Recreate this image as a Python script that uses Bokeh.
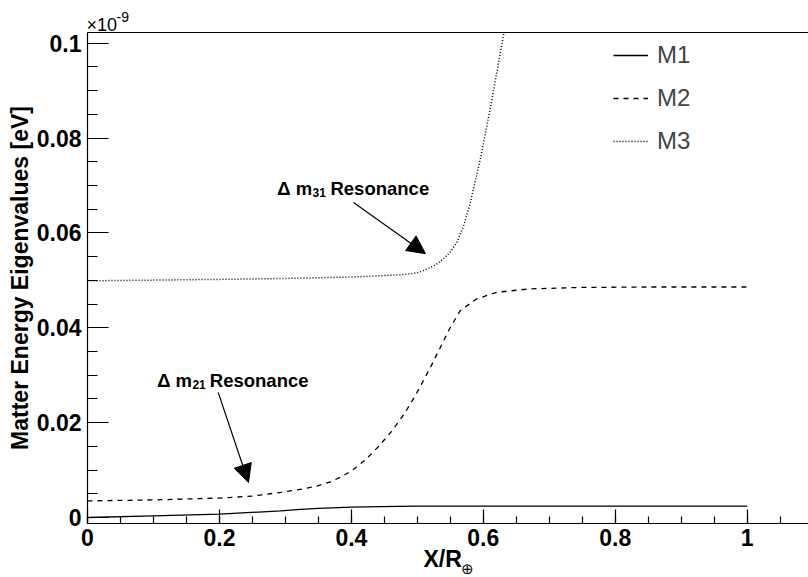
import numpy as np
from bokeh.plotting import figure
from bokeh.models import (Range1d, SingleIntervalTicker, FixedTicker, CustomJSTickFormatter,
                          LinearAxis, Label, Arrow, NormalHead, Legend, LegendItem, Title)
from bokeh.embed import file_html
from bokeh.resources import INLINE

# Matter eigenvalues (units of 1e-9 eV) versus position X/R_earth
x_m1 = [0.0, 0.1, 0.2, 0.293, 0.323, 0.35, 0.4, 0.444, 0.5, 0.6, 0.8, 1.0]
m1 = [0.0, 0.00035, 0.0007, 0.0014, 0.0017, 0.0019, 0.0022, 0.0023, 0.0024, 0.0024, 0.0024, 0.0024]

x_m2 = [0.0, 0.1, 0.2, 0.25, 0.293, 0.33, 0.35, 0.368, 0.385, 0.40, 0.42, 0.44, 0.46, 0.48,
        0.497, 0.52, 0.55, 0.565, 0.59, 0.621, 0.671, 0.747, 0.85, 1.0]
m2 = [0.0035, 0.0037, 0.0041, 0.0045, 0.0053, 0.0061, 0.0067, 0.0075, 0.0086, 0.0098,
      0.0120, 0.0148, 0.0180, 0.0218, 0.0257, 0.0317, 0.0401, 0.0436, 0.0461, 0.0475,
      0.0482, 0.0485, 0.0486, 0.0486]

x_m3 = [0.0, 0.2, 0.3, 0.4, 0.45, 0.475, 0.49, 0.5, 0.51, 0.52, 0.53, 0.54, 0.55, 0.56,
        0.57, 0.58, 0.595, 0.61, 0.625, 0.64]
m3 = [0.0499, 0.0502, 0.0504, 0.0507, 0.0510, 0.0512, 0.0514, 0.0516, 0.0521, 0.0527,
      0.0535, 0.0546, 0.0560, 0.0580, 0.0614, 0.0662, 0.0753, 0.0858, 0.0974, 0.1090]

series_names = ["M1", "M2", "M3"]

FONT = "Liberation Sans"
XMAX = 1.0929
YMIN, YMAX = -0.00127, 0.10226

p = figure(width=808, height=577, output_backend="svg", toolbar_location=None,
           x_range=Range1d(0, XMAX), y_range=Range1d(YMIN, YMAX),
           min_border_left=87, min_border_right=0, min_border_top=32, min_border_bottom=54)
p.grid.visible = False
p.outline_line_color = None
p.background_fill_color = "white"
p.border_fill_color = "white"

fmt = CustomJSTickFormatter(code="return parseFloat(tick.toFixed(3)).toString();")

xa = p.xaxis[0]
xa.ticker = SingleIntervalTicker(interval=0.2, num_minor_ticks=4)
xa.formatter = fmt
xa.major_tick_in = 14
xa.major_tick_out = 0
xa.minor_tick_in = 7
xa.minor_tick_out = 0
xa.axis_line_width = 1.2
xa.major_tick_line_width = 1.2
xa.minor_tick_line_width = 1.2
xa.major_label_text_font = FONT
xa.major_label_text_font_style = "bold"
xa.major_label_text_font_size = "23px"
xa.major_label_text_color = "black"
xa.major_label_standoff = 5

ya = p.yaxis[0]
ya.ticker = SingleIntervalTicker(interval=0.02, num_minor_ticks=4)
ya.formatter = fmt
ya.major_tick_in = 21
ya.major_tick_out = 0
ya.minor_tick_in = 10
ya.minor_tick_out = 0
ya.axis_line_width = 1.2
ya.major_tick_line_width = 1.2
ya.minor_tick_line_width = 1.2
ya.major_label_text_font = FONT
ya.major_label_text_font_style = "bold"
ya.major_label_text_font_size = "23px"
ya.major_label_text_color = "black"
ya.major_label_standoff = 6
ya.axis_label = "Matter Energy Eigenvalues [eV]"
ya.axis_label_text_font = FONT
ya.axis_label_text_font_style = "bold"
ya.axis_label_text_font_size = "23px"
ya.axis_label_text_color = "black"
ya.axis_label_standoff = 1

# frame line along the top
top = LinearAxis(ticker=FixedTicker(ticks=[]), major_tick_in=0, major_tick_out=0,
                 minor_tick_in=0, minor_tick_out=0, major_label_text_font_size="0px",
                 major_label_standoff=0, axis_line_width=1.2)
p.add_layout(top, "above")


def side_title(text, place, size, offset, standoff, style="bold"):
    t = Title(text=text, align="left", offset=offset, vertical_align="middle",
              text_font=FONT, text_font_size=size, text_font_style=style,
              text_color="black", standoff=0)
    try:
        t.standoff = standoff
    except Exception:
        pass
    p.add_layout(t, place)


# exponent of the vertical axis: "x10" with a raised "-9"
side_title("\u00d710", "above", "18px", -1, -7, style="normal")
side_title("-9", "above", "14px", 29, -10, style="normal")
# horizontal axis title, the subscript stacked as its own line
side_title("X/R", "below", "23px", 336, -8)
side_title("\u2295", "below", "15px", 373, -20, style="normal")

r1 = p.line(x_m1, m1, line_color="black", line_width=1.3)
r2 = p.line(x_m2, m2, line_color="black", line_width=1.3, line_dash="5 5")
r3 = p.line(x_m3, m3, line_color="black", line_width=1.5, line_dash="1 2")

legend = Legend(items=[LegendItem(label=n, renderers=[r]) for n, r in zip(series_names, [r1, r2, r3])],
                location=(526, 367), padding=0, margin=0, spacing=13,
                glyph_width=35, glyph_height=30, label_height=30, label_standoff=9,
                label_text_font=FONT, label_text_font_size="24px",
                border_line_color=None, background_fill_alpha=0)
p.add_layout(legend)


def lab(x, y, text, size, style="bold", align="left"):
    p.add_layout(Label(x=x, y=y, text=text, text_font=FONT, text_font_size=size,
                       text_font_style=style, text_align=align, text_baseline="alphabetic",
                       text_color="black"))


# resonance annotations
lab(0.3406, 0.06929, "\u0394 m", "18.5px", align="right")
lab(0.3411, 0.06851, "31", "12px")
lab(0.3683, 0.06929, "Resonance", "18.5px")
p.add_layout(Arrow(end=NormalHead(size=18, fill_color="black", line_color="black"),
                   x_start=0.4032, y_start=0.0664, x_end=0.5124, y_end=0.05563,
                   line_color="black", line_width=1.2))

lab(0.1585, 0.02884, "\u0394 m", "18.5px", align="right")
lab(0.1590, 0.02800, "21", "12px")
lab(0.1854, 0.02884, "Resonance", "18.5px")
p.add_layout(Arrow(end=NormalHead(size=18, fill_color="black", line_color="black"),
                   x_start=0.1981, y_start=0.02637, x_end=0.2440, y_end=0.00738,
                   line_color="black", line_width=1.2))

open("out.html", "w").write(file_html(p, INLINE))
